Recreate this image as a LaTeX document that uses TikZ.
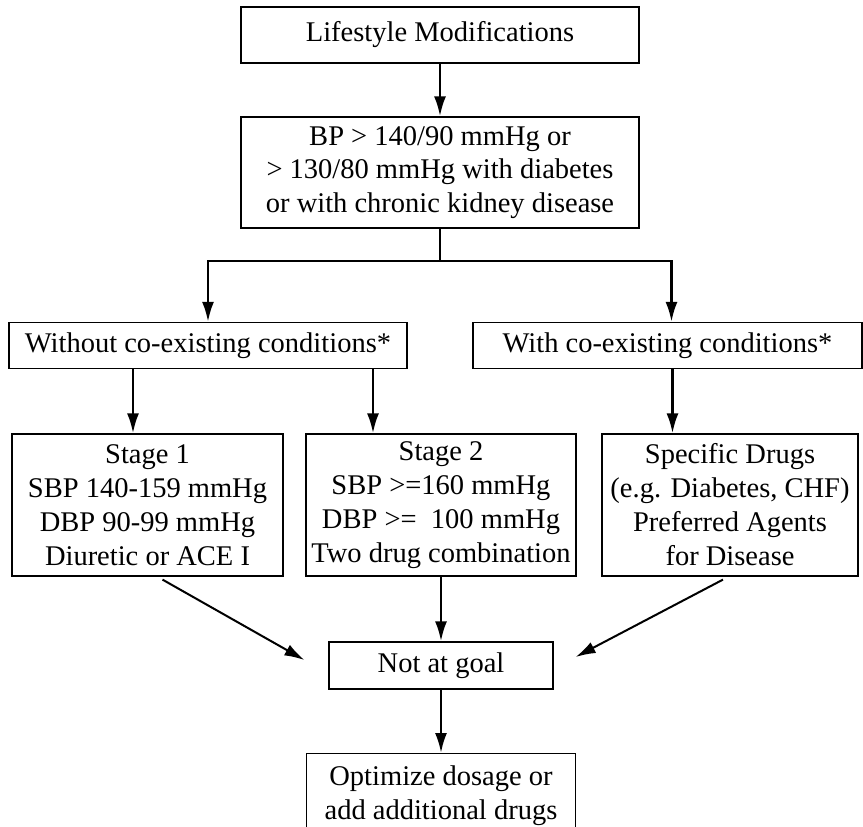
\documentclass[tikz,border=0pt]{standalone}
\usepackage{fontspec}
\setmainfont{Liberation Serif}
\usetikzlibrary{arrows.meta,calc}
\begin{document}
\begin{tikzpicture}[x=1pt,y=-1pt,
  box/.style={draw, line width=1.2pt, inner sep=0pt, align=center,
    font=\fontsize{28.5}{33.5}\selectfont},
  stagebox/.style={box, minimum width=271pt, minimum height=142pt,
    font=\fontsize{28.5}{34}\selectfont},
  flow/.style={line width=2.6pt, -{Latex[length=20pt,width=12pt]}},
  joint/.style={line width=2.6pt},
  slant/.style={line width=2pt, -{Latex[length=20pt,width=12pt]}},
  ]
\useasboundingbox (0,0) rectangle (863,827);
\clip (0,0) rectangle (863,827);

% boxes
\node[box, minimum width=398pt, minimum height=56pt] (top) at (440,35) {Lifestyle Modifications};
\node[box, minimum width=398pt, minimum height=111pt] (bp) at (440,172.5)
  {BP > 140/90 mmHg or\\> 130/80 mmHg with diabetes\\or with chronic kidney disease};
\node[box, minimum width=398pt, minimum height=46pt] (without) at (208,345.5) {Without co-existing conditions*};
\node[box, minimum width=389pt, minimum height=46pt] (with) at (667.5,345.5) {With co-existing conditions*};
\node[stagebox] (s1) at (147.5,505) {Stage 1\\SBP 140-159 mmHg\\DBP 90-99 mmHg\\Diuretic or ACE I};
\node[stagebox, minimum width=270pt] (s2) at (441,505) {Stage 2\\SBP >=160 mmHg\\DBP >= \ 100 mmHg\\Two drug combination};
\node[stagebox, minimum width=256pt] (spec) at (730,505) {Specific Drugs\\(e.g. Diabetes, CHF)\\Preferred Agents\\for Disease};
\node[box, minimum width=224pt, minimum height=47pt] (notgoal) at (441,665.5) {Not at goal};
\node[box, minimum width=269pt, minimum height=84pt, anchor=north] (opt) at (441,753)
  {Optimize dosage or\\add additional drugs};

% connectors
\coordinate (split) at (bp.south |- 0,261);
\draw[flow] (top.south) -- (bp.north);
\draw[joint] (bp.south) -- (split);
\draw[flow] (split) -| (without.north);
\draw[flow] (split) -| ([xshift=4pt]with.north);
\draw[flow] ([xshift=-75pt]without.south) -- ([xshift=-75pt]without.south |- s1.north);
\draw[flow] ([xshift=165pt]without.south) -- ([xshift=165pt]without.south |- s2.north);
\draw[flow] ([xshift=5pt]with.south) -- ([xshift=5pt]with.south |- spec.north);
\draw[flow] (s2.south) -- (s2.south |- notgoal.north);
\draw[flow] (notgoal.south) -- (notgoal.south |- opt.north);

\coordinate (a1) at ($(s1.south)+(15,3)$);
\coordinate (b1) at ($(notgoal.west)+(-24,-5.5)$);
\coordinate (a2) at ($(spec.south)+(-7,3)$);
\coordinate (b2) at ($(notgoal.east)+(22,-8.5)$);
\draw[slant] (a1) -- (b1);
\draw[slant] (a2) -- (b2);
\end{tikzpicture}
\end{document}
